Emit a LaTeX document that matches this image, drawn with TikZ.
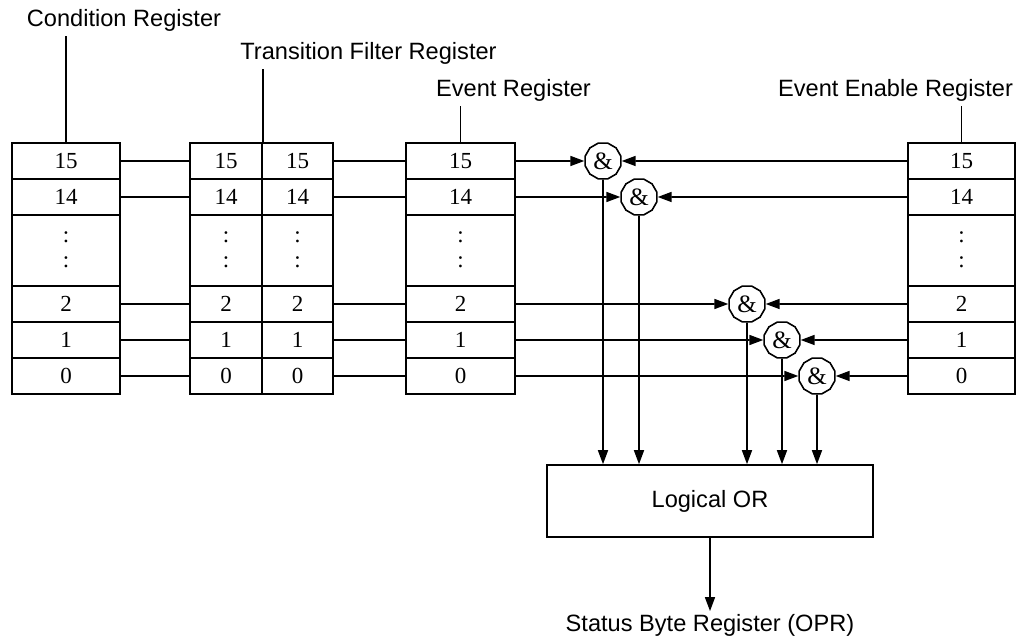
\documentclass[tikz,border=0pt]{standalone}
\usepackage{fontspec}
\setmainfont{Liberation Serif}
\setsansfont{Liberation Sans}
\usetikzlibrary{arrows.meta,shapes.geometric}

\begin{document}
\begin{tikzpicture}[x=0.5pt, y=-0.5pt, line width=0.8pt,
    cell/.style={draw, minimum width=#1, minimum height=18pt, inner sep=0pt,
                 font=\fontsize{11.5}{12.5}\selectfont},
    dotcell/.style={cell=#1, minimum height=35.5pt, align=center},
    gate/.style={draw, fill=white, regular polygon, regular polygon sides=12,
                 minimum size=18.5pt, inner sep=0pt, font=\fontsize{12.5}{13}\selectfont},
    lbl/.style={font=\sffamily\fontsize{11.8}{14}\selectfont, anchor=base, inner sep=1.5pt},
    orbox/.style={draw, minimum width=163pt, minimum height=36pt,
                  font=\sffamily\fontsize{11.8}{14}\selectfont},
    sig/.style={-{Triangle[length=7pt, width=5pt]}}
]
\useasboundingbox (0,0) rectangle (1024,641);

%% Register cells, one row per bit
\foreach \b/\y in {15/161, 14/197, 2/304, 1/340, 0/376} {
  \node[cell=54pt] (cr\b) at (66,\y) {\b};
  \node[cell=36pt] (tfa\b) at (226,\y) {\b};
  \node[cell=35.5pt] (tfb\b) at (297.5,\y) {\b};
  \node[cell=54.5pt] (er\b) at (460.5,\y) {\b};
  \node[cell=53.5pt] (ee\b) at (961.5,\y) {\b};
  \draw (cr\b) -- (tfa\b);
  \draw (tfb\b) -- (er\b);
}
%% the skipped bits
\foreach \r/\x/\w in {cr/66/54pt, tfa/226/36pt, tfb/297.5/35.5pt, er/460.5/54.5pt, ee/961.5/53.5pt}
  \node[dotcell=\w] (\r-dots) at (\x,250) {:\\:};

%% Register names
\node[lbl] (crlbl) at (124,27) {Condition Register};
\node[lbl] (tflbl) at (368.5,60) {Transition Filter Register};
\node[lbl] (erlbl) at (513.5,97) {Event Register};
\node[lbl] (eelbl) at (895.5,97) {Event Enable Register};
\draw (cr15.north) -- (cr15.north |- crlbl.south);
\draw (tfa15.north east) -- (tfa15.north east |- tflbl.south);
\draw (er15.north) -- (er15.north |- erlbl.south);
\draw (ee15.north) -- (ee15.north |- eelbl.south);

%% AND gates
\foreach \b/\x/\y in {15/603/161, 14/639/197, 2/747/304, 1/782/340, 0/817/376}
  \node[gate] (g\b) at (\x,\y) {\&};

%% Summary
\node[orbox] (or) at (710,501) {Logical OR};
\node[lbl] (sbr) at (710,632) {Status Byte Register (OPR)};

\foreach \b in {15,14,2,1,0} {
  \draw[sig] (er\b) -- (g\b);
  \draw[sig] (ee\b) -- (g\b);
  \draw[sig] (g\b) -- (g\b |- or.north);
}
\draw[sig] (or) -- (sbr);

\end{tikzpicture}
\end{document}
